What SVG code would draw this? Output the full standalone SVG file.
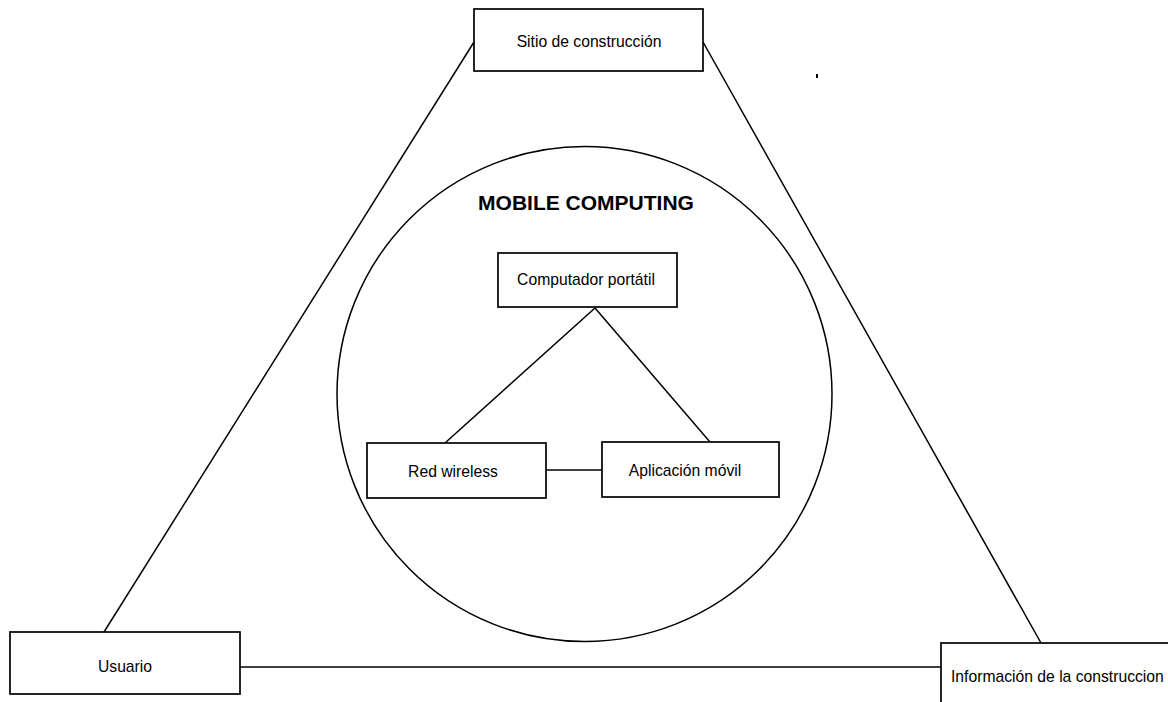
<svg xmlns="http://www.w3.org/2000/svg" width="1168" height="702" viewBox="0 0 1168 702">
<style>
.box{fill:#fff;stroke:#000;stroke-width:1.7}
.ln{stroke:#000;stroke-width:1.5;fill:none}
.t{font-family:"Liberation Sans",Arial,sans-serif;font-size:15.7px;fill:#000}
.h{font-family:"Liberation Sans",Arial,sans-serif;font-size:21px;font-weight:bold;fill:#000}
</style>
<rect width="1168" height="702" fill="#fff"/>
<g id="connectors">
<line class="ln" x1="474" y1="42" x2="104" y2="632"/>
<line class="ln" x1="703" y1="42" x2="1041" y2="643"/>
<line class="ln" x1="240" y1="667" x2="941" y2="667"/>
<line class="ln" x1="595" y1="308" x2="445" y2="443"/>
<line class="ln" x1="595" y1="308" x2="710" y2="442"/>
<line class="ln" x1="546" y1="470" x2="602" y2="470"/>
</g>
<g id="mobile-computing">
<circle class="ln" cx="584.5" cy="394" r="247.5" stroke-width="1.8"/>
<text class="h" x="586" y="210" text-anchor="middle">MOBILE COMPUTING</text>
</g>
<g id="sitio">
<rect class="box" x="474" y="9" width="229" height="62"/>
<text class="t" x="589" y="47" text-anchor="middle">Sitio de construcción</text>
</g>
<g id="usuario">
<rect class="box" x="10" y="632" width="230" height="62"/>
<text class="t" x="125" y="672" text-anchor="middle">Usuario</text>
</g>
<g id="informacion">
<rect class="box" x="941" y="643" width="240" height="70"/>
<text class="t" x="951" y="682">Información de la construccion</text>
</g>
<g id="computador">
<rect class="box" x="498" y="253" width="179" height="54"/>
<text class="t" x="586" y="285" text-anchor="middle">Computador portátil</text>
</g>
<g id="red">
<rect class="box" x="367" y="443" width="179" height="55"/>
<text class="t" x="453" y="477" text-anchor="middle">Red wireless</text>
</g>
<g id="aplicacion">
<rect class="box" x="602" y="442" width="177" height="55"/>
<text class="t" x="685" y="476" text-anchor="middle">Aplicación móvil</text>
</g>
<rect x="816" y="74" width="2" height="4" fill="#000"/>
</svg>
